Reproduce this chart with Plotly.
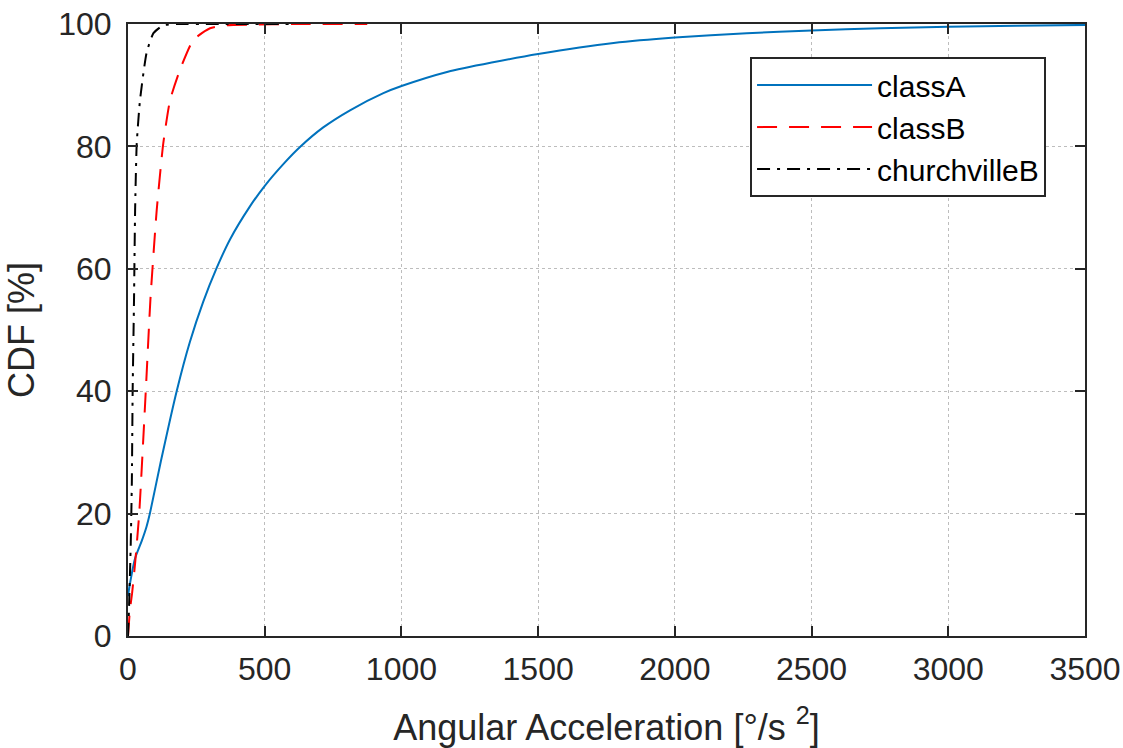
import plotly.graph_objects as go

# Empirical CDFs of angular acceleration per dataset
classA_x = [0, 5, 26, 50, 68, 80, 120, 178, 226, 275, 324, 373, 446, 501, 568, 629,
            714, 812, 934, 1003, 1170, 1330, 1500, 1776, 2000, 2263, 2500, 2751, 3000, 3250, 3500]
classA_y = [6.5, 8, 12.7, 15.5, 17.9, 20, 28.5, 40, 48, 54.6, 60.1, 64.8, 70.2, 73.6, 77.1, 79.9,
            83.1, 85.9, 88.7, 89.9, 92.2, 93.7, 95.1, 96.9, 97.8, 98.5, 98.95, 99.3, 99.55, 99.72, 99.85]

classB_x = [0, 7, 15, 26, 41, 65, 82, 105, 129, 154, 190, 239, 300, 361, 450, 600, 875]
classB_y = [0, 4.2, 7, 11.9, 20, 40, 55, 69.6, 80.5, 87.6, 92.5, 97.4, 99.3, 99.8, 99.9, 100, 100]

churchB_x = [0, 4, 10, 14, 17, 22, 26, 32, 44, 68, 93, 129, 178, 300, 600]
churchB_y = [0, 5, 15, 25, 40, 55, 69.6, 80.5, 87.6, 95.3, 98.5, 99.8, 100, 100, 100]

x_ticks = [0, 500, 1000, 1500, 2000, 2500, 3000, 3500]
y_ticks = [0, 20, 40, 60, 80, 100]

FONT = "Liberation Sans, Arial"
INK = "#262626"

fig = go.Figure()
fig.add_trace(go.Scatter(x=classA_x, y=classA_y, mode="lines", name="classA",
                         line=dict(color="#0072BD", width=2, shape="spline", smoothing=0.6)))
fig.add_trace(go.Scatter(x=classB_x, y=classB_y, mode="lines", name="classB",
                         line=dict(color="#FF0000", width=2, dash="20px,12px",
                                   shape="spline", smoothing=0.5)))
fig.add_trace(go.Scatter(x=churchB_x, y=churchB_y, mode="lines", name="churchvilleB",
                         line=dict(color="#000000", width=2, dash="13px,7px,3px,7px",
                                   shape="spline", smoothing=0.5)))

axis_common = dict(
    showline=True, linecolor=INK, linewidth=2, mirror="ticks",
    ticks="inside", ticklen=10, tickwidth=2, tickcolor=INK,
    showgrid=True, gridcolor="#bdbdbd", griddash="dot", gridwidth=1,
    zeroline=False, automargin=False,
    tickfont=dict(family=FONT, size=32, color=INK),
)

fig.update_xaxes(range=[0, 3500], tickvals=x_ticks, ticklabelstandoff=4,
                 title=dict(text="Angular Acceleration [°/s <sup>2</sup>]",
                            font=dict(family=FONT, size=36, color=INK),
                            standoff=28),
                 **axis_common)
fig.update_yaxes(range=[0, 100], tickvals=y_ticks, ticklabelstandoff=8,
                 title=dict(text="CDF [%]",
                            font=dict(family=FONT, size=36, color=INK),
                            standoff=13),
                 **axis_common)

fig.update_layout(
    width=1123, height=748,
    margin=dict(l=128, r=38, t=24, b=112),
    paper_bgcolor="white", plot_bgcolor="white",
    showlegend=True,
    legend=dict(x=0.65, y=0.946, xanchor="left", yanchor="top",
                bgcolor="white", bordercolor=INK, borderwidth=2,
                font=dict(family=FONT, size=30, color="#000000"),
                itemwidth=115, tracegroupgap=0),
)

fig.write_html("out.html")
